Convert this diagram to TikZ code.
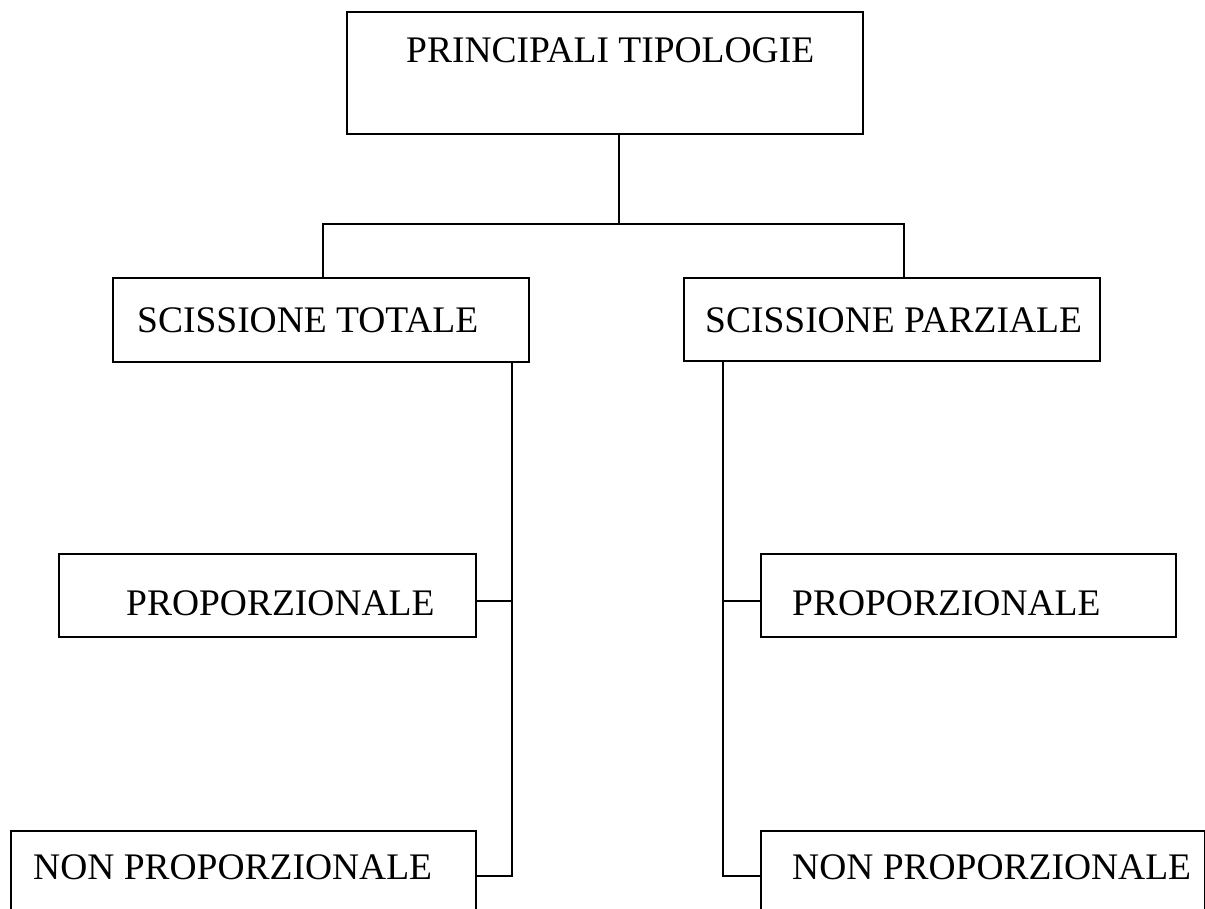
\documentclass[tikz,border=0pt]{standalone}
\usepackage{fontspec}
\setmainfont{Liberation Serif}
\begin{document}
\begin{tikzpicture}[x=1pt,y=-1pt,
  box/.style={draw, line width=1.8pt, inner sep=0pt, anchor=north west},
  lbl/.style={anchor=base west, inner sep=0pt, font=\fontsize{37.5}{45}\selectfont},
  wire/.style={line width=1.8pt}]
\useasboundingbox (0,0) rectangle (1205,908);
\clip (0,0) rectangle (1205,908);

% boxes
\node[box, minimum width=516pt, minimum height=122pt] (top) at (346,11) {};
\node[box, minimum width=416pt, minimum height=84pt] (st) at (112,277) {};
\node[box, minimum width=416pt, minimum height=83pt] (sp) at (683,277) {};
\node[box, minimum width=417pt, minimum height=83pt] (pl) at (58,553) {};
\node[box, minimum width=415pt, minimum height=83pt] (pr) at (760,553) {};
\node[box, minimum width=465pt, minimum height=90pt] (nl) at (10,830) {};
\node[box, minimum width=444pt, minimum height=90pt] (nr) at (760,830) {};

% labels
\node[lbl] (ttop) at (406,62) {PRINCIPALI TIPOLOGIE};
\node[lbl] (tst) at (137,332) {SCISSIONE TOTALE};
\node[lbl] (tsp) at (705,332) {SCISSIONE PARZIALE};
\node[lbl] (tpl) at (126,615) {PROPORZIONALE};
\node[lbl] (tpr) at (792,615) {PROPORZIONALE};
\node[lbl] (tnl) at (33,879) {NON PROPORZIONALE};
\node[lbl] (tnr) at (792,879) {NON PROPORZIONALE};

% junction points of the tree
\coordinate (hub) at (619,224);
\coordinate (dl) at (323,224);
\coordinate (dr) at (904,224);
\coordinate (tl) at (512,601);
\coordinate (tr) at (723,601);

% top level
\draw[wire] (top.south -| hub) -- (hub);
\draw[wire] (dl |- st.north) -- (dl) -- (dr) -- (dr |- sp.north);

% left trunk
\draw[wire] (st.south -| tl) -- (tl |- nl.east) -- (nl.east);
\draw[wire] (tl) -- (tl -| pl.east);

% right trunk
\draw[wire] (sp.south -| tr) -- (tr |- nr.west) -- (nr.west);
\draw[wire] (tr) -- (tr -| pr.west);
\end{tikzpicture}
\end{document}
